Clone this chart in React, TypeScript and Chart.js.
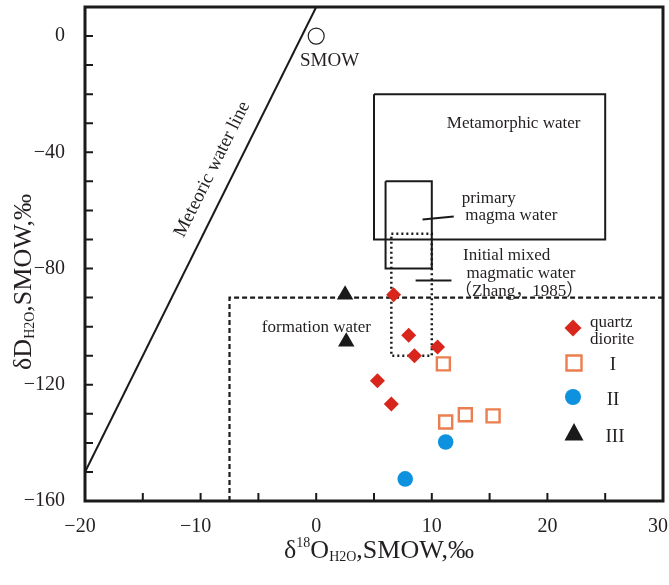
import React, { useEffect, useRef } from 'react';
import { Chart, registerables } from 'chart.js';
Chart.register(...registerables);

// ---------- data ----------
const xTickValues = [-20, -10, 0, 10, 20, 30];
const yTickValues = [-160, -120, -80, -40, 0];
const xTickMarks = [-15, -10, -5, 0, 5, 10, 15, 20, 25];
const yTickMarks = [-150, -140, -130, -120, -110, -100, -90, -80, -70, -60, -50, -40, -30, -20, -10, 0];

const quartzDioriteX = [6.7, 8.0, 8.5, 10.5, 5.3, 6.5];
const quartzDioriteY = [-89, -103, -110, -107, -118.6, -126.6];
const groupIX = [11.0, 11.2, 12.9, 15.3];
const groupIY = [-112.8, -132.8, -130.3, -130.7];
const groupIIX = [11.2, 7.7];
const groupIIY = [-139.7, -152.4];
const groupIIIX = [2.5, 2.6];
const groupIIIY = [-89, -105.2];
const smowX = [0];
const smowY = [0];

const meteoricX = [-20, 0];
const meteoricY = [-150, 10];
const metamorphicX = [5, 25, 25, 5, 5];
const metamorphicY = [-20, -20, -70, -70, -20];
const primaryX = [6, 10, 10, 6, 6];
const primaryY = [-50, -50, -80, -80, -50];
const mixedX = [6.5, 10, 10, 6.5, 6.5];
const mixedY = [-68, -68, -110, -110, -68];
const formationX = [-7.5, -7.5, 30];
const formationY = [-160, -90, -90];
const leaderPrimaryX = [9.2, 11.9];
const leaderPrimaryY = [-63.1, -62.1];
const leaderMixedX = [8.6, 11.7];
const leaderMixedY = [-84.1, -84.1];

// ---------- styles ----------
const FONT = "'Liberation Serif', 'Noto Serif', 'Noto Sans CJK SC', serif";
const RED = '#D9261C';
const ORANGE = '#EC7D4E';
const BLUE = '#0E91DE';
const BLACK = '#1A1A1A';
const TEXT = '#231F20';

const pts = (xs: number[], ys: number[]) => xs.map((x, i) => ({ x, y: ys[i] }));
const fmt = (v: number) => (v < 0 ? '\u2212' + Math.abs(v) : String(v));
// x labels: centre the digits on the tick (the minus hangs left); keep the last one inside the canvas
const fmtX = (v: number) =>
  v < 0 || v === xTickValues[xTickValues.length - 1] ? fmt(v) + '\u2002' : fmt(v);

function drawShape(ctx: CanvasRenderingContext2D, kind: string, x: number, y: number, r: number) {
  ctx.beginPath();
  if (kind === 'diamond') {
    ctx.moveTo(x - r, y); ctx.lineTo(x, y - r); ctx.lineTo(x + r, y); ctx.lineTo(x, y + r); ctx.closePath();
    ctx.fillStyle = RED; ctx.fill();
  } else if (kind === 'square') {
    ctx.rect(x - r, y - r, 2 * r, 2 * r);
    ctx.fillStyle = '#fff'; ctx.fill();
    ctx.strokeStyle = ORANGE; ctx.lineWidth = 2.4; ctx.stroke();
  } else if (kind === 'circle') {
    ctx.arc(x, y, r, 0, Math.PI * 2);
    ctx.fillStyle = BLUE; ctx.fill();
  } else if (kind === 'triangle') {
    ctx.moveTo(x, y - r); ctx.lineTo(x + r * 0.95, y + r * 0.75); ctx.lineTo(x - r * 0.95, y + r * 0.75); ctx.closePath();
    ctx.fillStyle = BLACK; ctx.fill();
  }
}

type Seg = { t: string; s: number; dy: number };
function drawRich(ctx: CanvasRenderingContext2D, segs: Seg[], cx: number, cy: number, rot: number) {
  ctx.save();
  ctx.translate(cx, cy);
  ctx.rotate(rot);
  let total = 0;
  const ws = segs.map((g) => {
    ctx.font = `${g.s}px ${FONT}`;
    const w = ctx.measureText(g.t).width;
    total += w;
    return w;
  });
  let x = -total / 2;
  ctx.fillStyle = TEXT;
  ctx.textBaseline = 'alphabetic';
  ctx.textAlign = 'left';
  segs.forEach((g, i) => {
    ctx.font = `${g.s}px ${FONT}`;
    ctx.fillText(g.t, x, g.dy);
    x += ws[i];
  });
  ctx.restore();
}

const decorPlugin = {
  id: 'decor',
  afterDraw(chart: any) {
    const { ctx, chartArea: a, scales } = chart;
    const xs = scales.x, ys = scales.y;
    const px = (v: number) => xs.getPixelForValue(v);
    const py = (v: number) => ys.getPixelForValue(v);
    ctx.save();
    // frame
    ctx.strokeStyle = BLACK;
    ctx.lineWidth = 3;
    ctx.strokeRect(a.left, a.top, a.right - a.left, a.bottom - a.top);
    // inward ticks
    ctx.lineWidth = 2;
    ctx.beginPath();
    xTickMarks.forEach((v) => { ctx.moveTo(px(v), a.bottom); ctx.lineTo(px(v), a.bottom - 8); });
    yTickMarks.forEach((v) => { ctx.moveTo(a.left, py(v)); ctx.lineTo(a.left + 8, py(v)); });
    ctx.stroke();

    // annotation labels
    ctx.fillStyle = TEXT;
    ctx.textBaseline = 'alphabetic';
    ctx.textAlign = 'left';
    ctx.font = `17px ${FONT}`;
    const label = (t: string, x: number, y: number) => ctx.fillText(t, px(x), py(y));
    label('Metamorphic water', 11.3, -31.7);
    label('primary', 12.6, -57.6);
    label('magma water', 12.9, -63.4);
    label('Initial mixed', 12.7, -77.2);
    label('magmatic water', 13.0, -83.1);
    label('\uFF08Zhang\uFF0C1985\uFF09', 12.0, -89.3);
    label('formation water', -4.7, -102);
    ctx.font = `19px ${FONT}`;
    label('SMOW', -1.4, -10.3);

    // meteoric water line label, rotated along the line
    const ang = Math.atan2(py(meteoricY[1]) - py(meteoricY[0]), px(meteoricX[1]) - px(meteoricX[0]));
    ctx.save();
    ctx.translate(px(-9.0), py(-45.9));
    ctx.rotate(ang);
    ctx.textAlign = 'center';
    ctx.textBaseline = 'middle';
    ctx.font = `19px ${FONT}`;
    ctx.fillText('Meteoric water line', 0, 0);
    ctx.restore();

    // legend
    const lx = a.right - 90;
    drawShape(ctx, 'diamond', lx, a.top + 321, 8.5);
    drawShape(ctx, 'square', lx + 1, a.top + 356, 7.5);
    drawShape(ctx, 'circle', lx, a.top + 390, 8);
    drawShape(ctx, 'triangle', lx + 1, a.top + 426, 10);
    ctx.fillStyle = TEXT;
    ctx.font = `17px ${FONT}`;
    ctx.textAlign = 'left';
    ctx.textBaseline = 'alphabetic';
    ctx.fillText('quartz', lx + 17, a.top + 320);
    ctx.fillText('diorite', lx + 17, a.top + 337);
    ctx.textAlign = 'center';
    ctx.font = `19px ${FONT}`;
    ctx.fillText('I', lx + 40, a.top + 363);
    ctx.fillText('II', lx + 40, a.top + 398);
    ctx.fillText('III', lx + 42, a.top + 435);

    // axis titles
    const F = 26;
    drawRich(ctx, [
      { t: '\u03B4', s: F, dy: 0 },
      { t: '18', s: 14, dy: -11 },
      { t: 'O', s: F, dy: 0 },
      { t: 'H2O', s: 14, dy: 3 },
      { t: ',SMOW,\u2030', s: F, dy: 0 },
    ], (a.left + a.right) / 2 + 5, 558, 0);
    drawRich(ctx, [
      { t: '\u03B4D', s: F, dy: 0 },
      { t: 'H2O', s: 14, dy: 3 },
      { t: ',SMOW,\u2030', s: F, dy: 0 },
    ], 31, 282, -Math.PI / 2);
    ctx.restore();
  },
};

export default function App() {
  const ref = useRef<HTMLCanvasElement>(null);
  useEffect(() => {
    document.body.style.margin = '0';
    const canvas = ref.current!;
    const lineDs = (label: string, xs: number[], ys: number[], width: number, dash: number[] = []) => ({
      label,
      data: pts(xs, ys),
      showLine: true,
      borderColor: BLACK,
      backgroundColor: BLACK,
      borderWidth: width,
      borderDash: dash,
      pointRadius: 0,
      fill: false,
      tension: 0,
      order: 10,
    });
    const chart = new Chart(canvas, {
      type: 'scatter',
      data: {
        datasets: [
          { label: 'quartz diorite', data: pts(quartzDioriteX, quartzDioriteY), pointStyle: 'rectRot', pointRadius: 7.5, backgroundColor: RED, borderColor: RED, borderWidth: 0, order: 1 },
          { label: 'I', data: pts(groupIX, groupIY), pointStyle: 'rect', pointRadius: 9.2, backgroundColor: '#fff', borderColor: ORANGE, borderWidth: 2.4, order: 1 },
          { label: 'II', data: pts(groupIIX, groupIIY), pointStyle: 'circle', pointRadius: 7.8, backgroundColor: BLUE, borderColor: BLUE, borderWidth: 0, order: 1 },
          { label: 'III', data: pts(groupIIIX, groupIIIY), pointStyle: 'triangle', pointRadius: 9.5, backgroundColor: BLACK, borderColor: BLACK, borderWidth: 0, order: 1 },
          { label: 'SMOW', data: pts(smowX, smowY), pointStyle: 'circle', pointRadius: 8, backgroundColor: '#fff', borderColor: '#222', borderWidth: 1.2, order: 1 },
          lineDs('Meteoric water line', meteoricX, meteoricY, 2),
          lineDs('Metamorphic water', metamorphicX, metamorphicY, 2),
          lineDs('primary magma water', primaryX, primaryY, 2),
          lineDs('Initial mixed magmatic water', mixedX, mixedY, 2.5, [2, 3]),
          lineDs('formation water', formationX, formationY, 2.2, [5, 3]),
          lineDs('leader primary', leaderPrimaryX, leaderPrimaryY, 2),
          lineDs('leader mixed', leaderMixedX, leaderMixedY, 2),
        ] as any,
      },
      options: {
        animation: false,
        responsive: false,
        devicePixelRatio: 1,
        layout: { autoPadding: false, padding: { left: 0, top: 7, right: 6, bottom: 0 } },
        plugins: { legend: { display: false }, tooltip: { enabled: false } },
        scales: {
          x: {
            type: 'linear',
            min: -20,
            max: 30,
            afterBuildTicks: (s: any) => { s.ticks = xTickValues.map((v) => ({ value: v })); },
            afterFit: (s: any) => { s.height = 84; s.paddingLeft = 0; s.paddingRight = 0; s.paddingTop = 0; s.paddingBottom = 0; },
            grid: { display: false, drawTicks: false },
            border: { display: false },
            ticks: { font: { family: FONT, size: 20 }, color: TEXT, padding: 14, maxRotation: 0, callback: (v: any) => fmtX(Number(v)) },
          },
          y: {
            type: 'linear',
            min: -160,
            max: 10,
            afterBuildTicks: (s: any) => { s.ticks = yTickValues.map((v) => ({ value: v })); },
            afterFit: (s: any) => { s.width = 85; s.paddingLeft = 0; s.paddingRight = 0; s.paddingTop = 0; s.paddingBottom = 0; },
            grid: { display: false, drawTicks: false },
            border: { display: false },
            ticks: { font: { family: FONT, size: 20 }, color: TEXT, padding: 20, callback: (v: any) => fmt(Number(v)) },
          },
        },
      } as any,
      plugins: [decorPlugin],
    });
    return () => chart.destroy();
  }, []);
  return <canvas ref={ref} width={669} height={585} style={{ display: 'block' }} />;
}
